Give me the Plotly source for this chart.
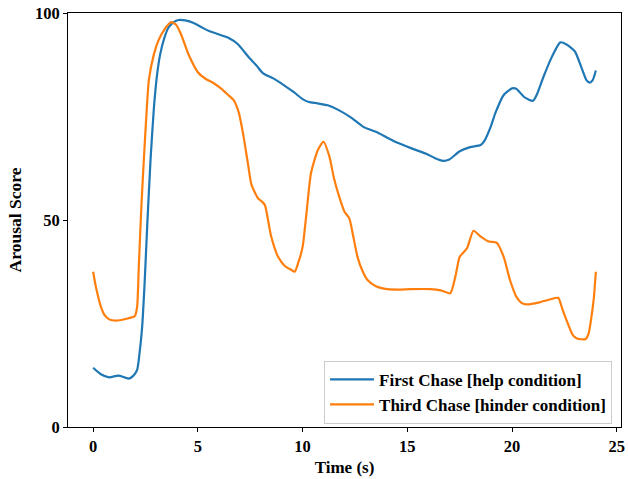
import plotly.graph_objects as go

# First Chase [help condition]
t_help = [0.0, 0.35, 0.76, 1.2, 1.5, 1.7, 1.9, 2.1, 2.22, 2.34, 2.46, 2.58, 2.74, 2.9, 3.05, 3.2, 3.4, 3.6, 3.85, 4.08,
          4.4, 4.8, 5.2, 5.5, 5.9, 6.45, 6.9, 7.4, 7.8, 8.1, 8.6, 9.1, 9.6, 10.0, 10.3, 10.7, 11.2, 11.7, 12.3,
          12.9, 13.5, 14.0, 14.5, 15.2, 15.9, 16.3, 16.7, 17.0, 17.5, 18.0, 18.5, 18.7, 19.0, 19.2, 19.6,
          20.0, 20.2, 20.6, 21.0, 21.2, 21.5, 21.9, 22.3, 22.6, 23.0, 23.3, 23.55, 23.7, 23.85, 24.0]
v_help = [14.3, 12.8, 12.0, 12.4, 12.0, 11.7, 12.3, 13.8, 18.0, 24.2, 35.0, 48.4, 64.5, 77.0, 85.0, 90.0, 94.0, 96.5, 97.8, 98.3,
          98.2, 97.6, 96.5, 95.7, 95.0, 94.0, 92.5, 89.5, 87.3, 85.5, 84.2, 82.6, 80.8, 79.2, 78.5, 78.2, 77.7, 76.6, 74.8,
          72.5, 71.3, 70.0, 68.7, 67.3, 66.0, 65.0, 64.3, 64.6, 66.6, 67.6, 68.1, 69.3, 72.8, 75.8, 80.2,
          81.8, 81.7, 79.6, 78.8, 80.5, 84.6, 89.4, 92.9, 92.4, 90.7, 87.0, 83.8, 83.2, 83.8, 86.1]

# Third Chase [hinder condition]
t_hinder = [0.0, 0.13, 0.37, 0.55, 0.76, 1.08, 1.55, 1.99, 2.1, 2.18, 2.31, 2.42, 2.55, 2.66, 2.9, 3.13, 3.4, 3.72,
            3.95, 4.2, 4.56, 5.0, 5.4, 5.74, 6.1, 6.45, 6.7, 6.95, 7.17, 7.4, 7.56, 7.88, 8.05, 8.2, 8.5, 8.83, 9.15,
            9.45, 9.62, 9.78, 10.0, 10.2, 10.4, 10.73, 11.0, 11.28, 11.5, 11.75, 12.0, 12.23, 12.4, 12.62, 12.85, 13.1,
            13.5, 14.05, 14.6, 15.15, 16.1, 16.6, 17.05, 17.3, 17.5, 17.85, 18.16, 18.5, 18.9, 19.27, 19.6, 19.9,
            20.2, 20.45, 20.7, 21.3, 21.8, 22.2, 22.4, 22.6, 22.9, 23.1, 23.3, 23.5, 23.65, 23.8, 23.9, 24.0]
v_hinder = [37.5, 33.9, 29.1, 27.0, 26.0, 25.7, 26.1, 26.8, 29.1, 38.7, 54.0, 64.5, 76.0, 83.8, 90.0, 93.5, 96.0, 97.8,
            97.2, 94.8, 89.9, 85.7, 84.0, 83.1, 81.8, 80.2, 79.0, 76.0, 70.5, 63.3, 58.5, 55.2, 54.5, 53.6, 46.0, 41.1, 38.9,
            38.0, 37.5, 39.5, 43.5, 52.4, 61.3, 66.9, 68.9, 65.3, 60.0, 55.6, 52.0, 50.4, 46.5, 41.1, 37.8, 35.5,
            34.0, 33.3, 33.2, 33.3, 33.3, 33.0, 32.3, 36.5, 41.1, 43.2, 47.4, 46.0, 44.8, 44.5, 41.1, 35.5,
            31.5, 30.0, 29.6, 30.1, 30.8, 31.2, 28.5, 25.8, 22.2, 21.4, 21.2, 21.2, 22.5, 27.0, 31.0, 37.5]

tick_x = [0, 5, 10, 15, 20, 25]
tick_y = [0, 50, 100]

FONT = "Liberation Serif, Times New Roman, serif"

fig = go.Figure()
fig.add_trace(go.Scatter(x=t_help, y=v_help, mode="lines", name="First Chase [help condition]",
                         line=dict(color="#1f77b4", width=2.2, shape="spline", smoothing=0.6)))
fig.add_trace(go.Scatter(x=t_hinder, y=v_hinder, mode="lines", name="Third Chase [hinder condition]",
                         line=dict(color="#ff7f0e", width=2.2, shape="spline", smoothing=0.6)))

axis_common = dict(showgrid=False, zeroline=False, showline=True, linecolor="black", linewidth=1,
                   mirror=True, ticks="outside", ticklen=4, tickcolor="black", tickwidth=1,
                   ticklabeloverflow="allow",
                   tickfont=dict(family=FONT, size=16.5, color="black", weight="bold"))

fig.update_layout(
    width=628, height=479,
    margin=dict(l=68, r=3, t=13, b=52),
    paper_bgcolor="white", plot_bgcolor="white",
    font=dict(family=FONT, size=16, color="black", weight="bold"),
    xaxis=dict(range=[-1.2, 25.2], tickvals=tick_x,
               title=dict(text="Time (s)", font=dict(family=FONT, size=17, weight="bold"), standoff=6),
               **axis_common),
    yaxis=dict(range=[0, 100], tickvals=tick_y,
               title=dict(text="Arousal Score", font=dict(family=FONT, size=17.5, weight="bold"), standoff=8),
               **axis_common),
    legend=dict(x=0.463, y=0.16, xanchor="left", yanchor="top", itemwidth=44,
                bgcolor="rgba(255,255,255,0.8)", bordercolor="#cccccc", borderwidth=1,
                font=dict(family=FONT, size=17, color="black", weight="bold")),
    showlegend=True,
)

fig.write_html("out.html")
